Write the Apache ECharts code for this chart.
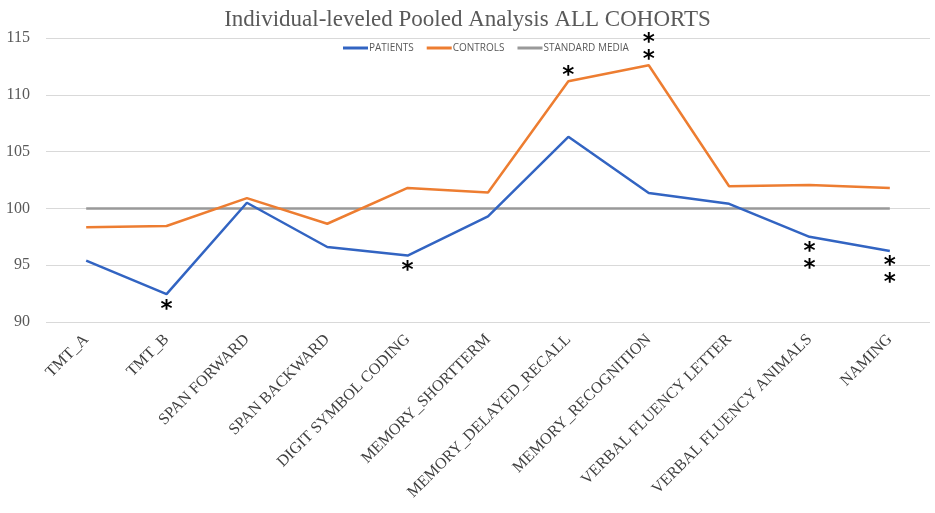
<!DOCTYPE html>
<html>
<head>
<meta charset="utf-8">
<script src="https://cdn.jsdelivr.net/npm/echarts@6/dist/echarts.min.js"></script>
<style>
  html, body { margin: 0; padding: 0; background: #fff; }
  #chart { width: 935px; height: 513px; }
</style>
</head>
<body>
<div id="chart"></div>
<script>
  'use strict';

  const categories = [
    'TMT_A', 'TMT_B', 'SPAN FORWARD', 'SPAN BACKWARD', 'DIGIT SYMBOL CODING',
    'MEMORY_SHORTTERM', 'MEMORY_DELAYED_RECALL', 'MEMORY_RECOGNITION',
    'VERBAL FLUENCY LETTER', 'VERBAL FLUENCY ANIMALS', 'NAMING'
  ];
  const patients = [95.4, 92.45, 100.5, 96.6, 95.85, 99.3, 106.3, 101.35, 100.4, 97.5, 96.25];
  const controls = [98.35, 98.45, 100.9, 98.65, 101.8, 101.4, 111.2, 112.6, 101.95, 102.05, 101.8];
  const standardMedia = [100, 100, 100, 100, 100, 100, 100, 100, 100, 100, 100];
  // significance marks, one per category
  const patientStars = ['', '*', '', '', '*', '', '', '', '', '**', '**'];
  const controlStars = ['', '', '', '', '', '', '*', '**', '', '', ''];
  const yTicks = [90, 95, 100, 105, 110, 115];

  const serif = '"Liberation Serif", "DejaVu Serif", serif';
  const starFont = {
    fontFamily: '"DejaVu Sans", sans-serif',
    fontWeight: 'bold',
    fontSize: 23,
    lineHeight: 17,
    color: '#000'
  };

  function withStars(values, stars, below) {
    return values.map((v, i) => {
      if (!stars[i]) return v;
      return {
        value: v,
        label: Object.assign({
          show: true,
          position: below ? 'bottom' : 'top',
          offset: below ? [0, 2] : [0, 8],
          formatter: stars[i].split('').join('\n')
        }, starFont)
      };
    });
  }

  const chart = echarts.init(document.getElementById('chart'));
  chart.setOption({
    animation: false,
    title: {
      text: 'Individual-leveled Pooled Analysis ALL COHORTS',
      left: 'center',
      top: 3,
      textStyle: { fontFamily: serif, fontWeight: 'normal', fontSize: 23, color: '#595959' }
    },
    legend: {
      top: 38,
      left: 338,
      itemWidth: 25,
      itemHeight: 3,
      itemGap: 13,
      icon: 'rect',
      textStyle: { fontFamily: '"Open Sans", sans-serif', fontSize: 10, color: '#595959', padding: [0, 0, 0, -4] },
      data: ['PATIENTS', 'CONTROLS', 'STANDARD MEDIA']
    },
    grid: { left: 46, right: 5, top: 38, bottom: 191, containLabel: false },
    xAxis: {
      type: 'category',
      data: categories,
      boundaryGap: true,
      axisLine: { show: false },
      axisTick: { show: false },
      axisLabel: {
        interval: 0,
        rotate: 45,
        margin: 15,
        fontFamily: serif,
        fontSize: 16,
        color: '#404040'
      }
    },
    yAxis: {
      type: 'value',
      min: yTicks[0],
      max: yTicks[yTicks.length - 1],
      interval: 5,
      axisLine: { show: false },
      axisTick: { show: false },
      axisLabel: { fontFamily: serif, fontSize: 16, color: '#595959', margin: 16 },
      splitLine: { lineStyle: { color: '#d9d9d9', width: 1 } }
    },
    series: [
      {
        name: 'PATIENTS',
        type: 'line',
        data: withStars(patients, patientStars, true),
        symbol: 'circle',
        symbolSize: 0,
        color: '#3264c2',
        lineStyle: { width: 2.5, color: '#3264c2' },
        z: 4
      },
      {
        name: 'CONTROLS',
        type: 'line',
        data: withStars(controls, controlStars, false),
        symbol: 'circle',
        symbolSize: 0,
        color: '#ed7d31',
        lineStyle: { width: 2.5, color: '#ed7d31' },
        z: 3
      },
      {
        name: 'STANDARD MEDIA',
        type: 'line',
        data: standardMedia,
        symbol: 'none',
        color: '#999999',
        lineStyle: { width: 2.5, color: '#999999' },
        z: 2
      }
    ]
  });
</script>
</body>
</html>
